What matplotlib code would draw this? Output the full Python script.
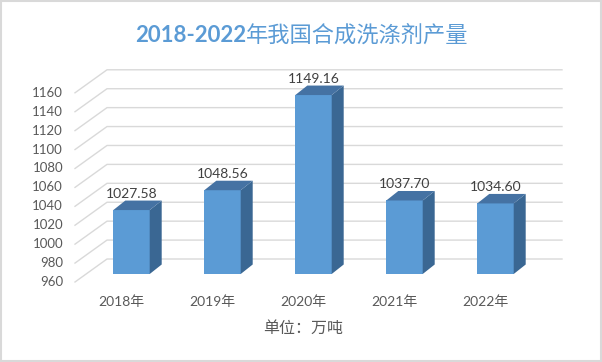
import numpy as np
import matplotlib
matplotlib.use("Agg")
import matplotlib.pyplot as plt
from matplotlib.patches import Polygon, Rectangle

years = ["2018年", "2019年", "2020年", "2021年", "2022年"]
output = [1027.58, 1048.56, 1149.16, 1037.70, 1034.60]
yticks = [960, 980, 1000, 1020, 1040, 1060, 1080, 1100, 1120, 1140, 1160]

title_a = "2018-2022"
title_b = "年我国合成洗涤剂产量"
unit = "单位：万吨"

fonts = ["Lato", "Noto Sans CJK SC", "DejaVu Sans"]
plt.rcParams["font.family"] = fonts

c_front = "#5B9BD5"
c_side = "#3A6793"
c_top = "#4572A3"
c_grid = "#D9D9D9"
c_text = "#595959"

# 3d look, offsets in pixels
depth = (12, 9.5)        # bar depth
front = (-11, -8)        # axis front plane vs bar front plane
back = (21, 15)          # back wall vs bar front plane

fig = plt.figure(figsize=(6.02, 3.62), dpi=100)
ax = fig.add_axes([86 / 602, 1 - 274 / 362, 455 / 602, (274 - 84.8) / 362])
ax.set_xlim(-0.5, len(years) - 0.5)
ax.set_ylim(yticks[0], yticks[-1])
ax.axis("off")


def shifted(x, y, d):
    px, py = ax.transData.transform((x, y))
    return ax.transData.inverted().transform((px + d[0], py + d[1]))


x = np.arange(len(years))
x0, x1 = ax.get_xlim()

# grid: slanted part on the side wall + horizontal part on the back wall
for v in yticks:
    p_front = shifted(x0, v, front)
    p_back = shifted(x0, v, back)
    p_end = shifted(x1, v, back)
    ax.plot([p_front[0], p_back[0], p_end[0]], [p_front[1], p_back[1], p_end[1]],
            color=c_grid, lw=1, clip_on=False, zorder=1)
    ax.text(*shifted(x0, v, (front[0] - 12, front[1])), str(v), ha="right", va="center",
            fontsize=9.5, color=c_text, clip_on=False)

w = 0.4
base = yticks[0]
ax.bar(x, np.array(output) - base, bottom=base, width=w, color=c_front, zorder=3)
for xi, v in zip(x, output):
    l, r = xi - w / 2, xi + w / 2
    side = [(r, base), (r, v), shifted(r, v, depth), shifted(r, base, depth)]
    top = [(l, v), (r, v), shifted(r, v, depth), shifted(l, v, depth)]
    ax.add_patch(Polygon(side, closed=True, color=c_side, lw=0, zorder=3, clip_on=False))
    ax.add_patch(Polygon(top, closed=True, color=c_top, lw=0, zorder=3, clip_on=False))
    ax.annotate(f"{v:.2f}", (xi, v), xytext=(0, 16), textcoords="offset pixels",
                ha="center", va="center", fontsize=10, color="#404040", zorder=4)
    ax.annotate(years[xi], (xi, base), xytext=(-10, -28), textcoords="offset pixels",
                ha="center", va="center", fontsize=10, color=c_text)

# title: bold digits, regular CJK
ty = 1 - 35 / 362
ta = fig.text(0, ty, title_a, ha="left", va="center", fontsize=16,
              fontweight="bold", color=c_front)
tb = fig.text(0, ty, title_b, ha="left", va="center", fontsize=16, color=c_front)
r = fig.canvas.get_renderer()
wa = ta.get_window_extent(r).width
wb = tb.get_window_extent(r).width
start = 302 - (wa + wb) / 2
ta.set_x(start / 602)
tb.set_x((start + wa) / 602)

fig.text(303 / 602, 1 - 328 / 362, unit, ha="center", va="center", fontsize=11.5,
         color=c_text)

fig.patches.append(Rectangle((0.5 / 602, 1.5 / 362), 600 / 602, 359.5 / 362,
                             transform=fig.transFigure, fill=False,
                             edgecolor=c_grid, lw=1.5))

fig.savefig("out.png", dpi=100)
